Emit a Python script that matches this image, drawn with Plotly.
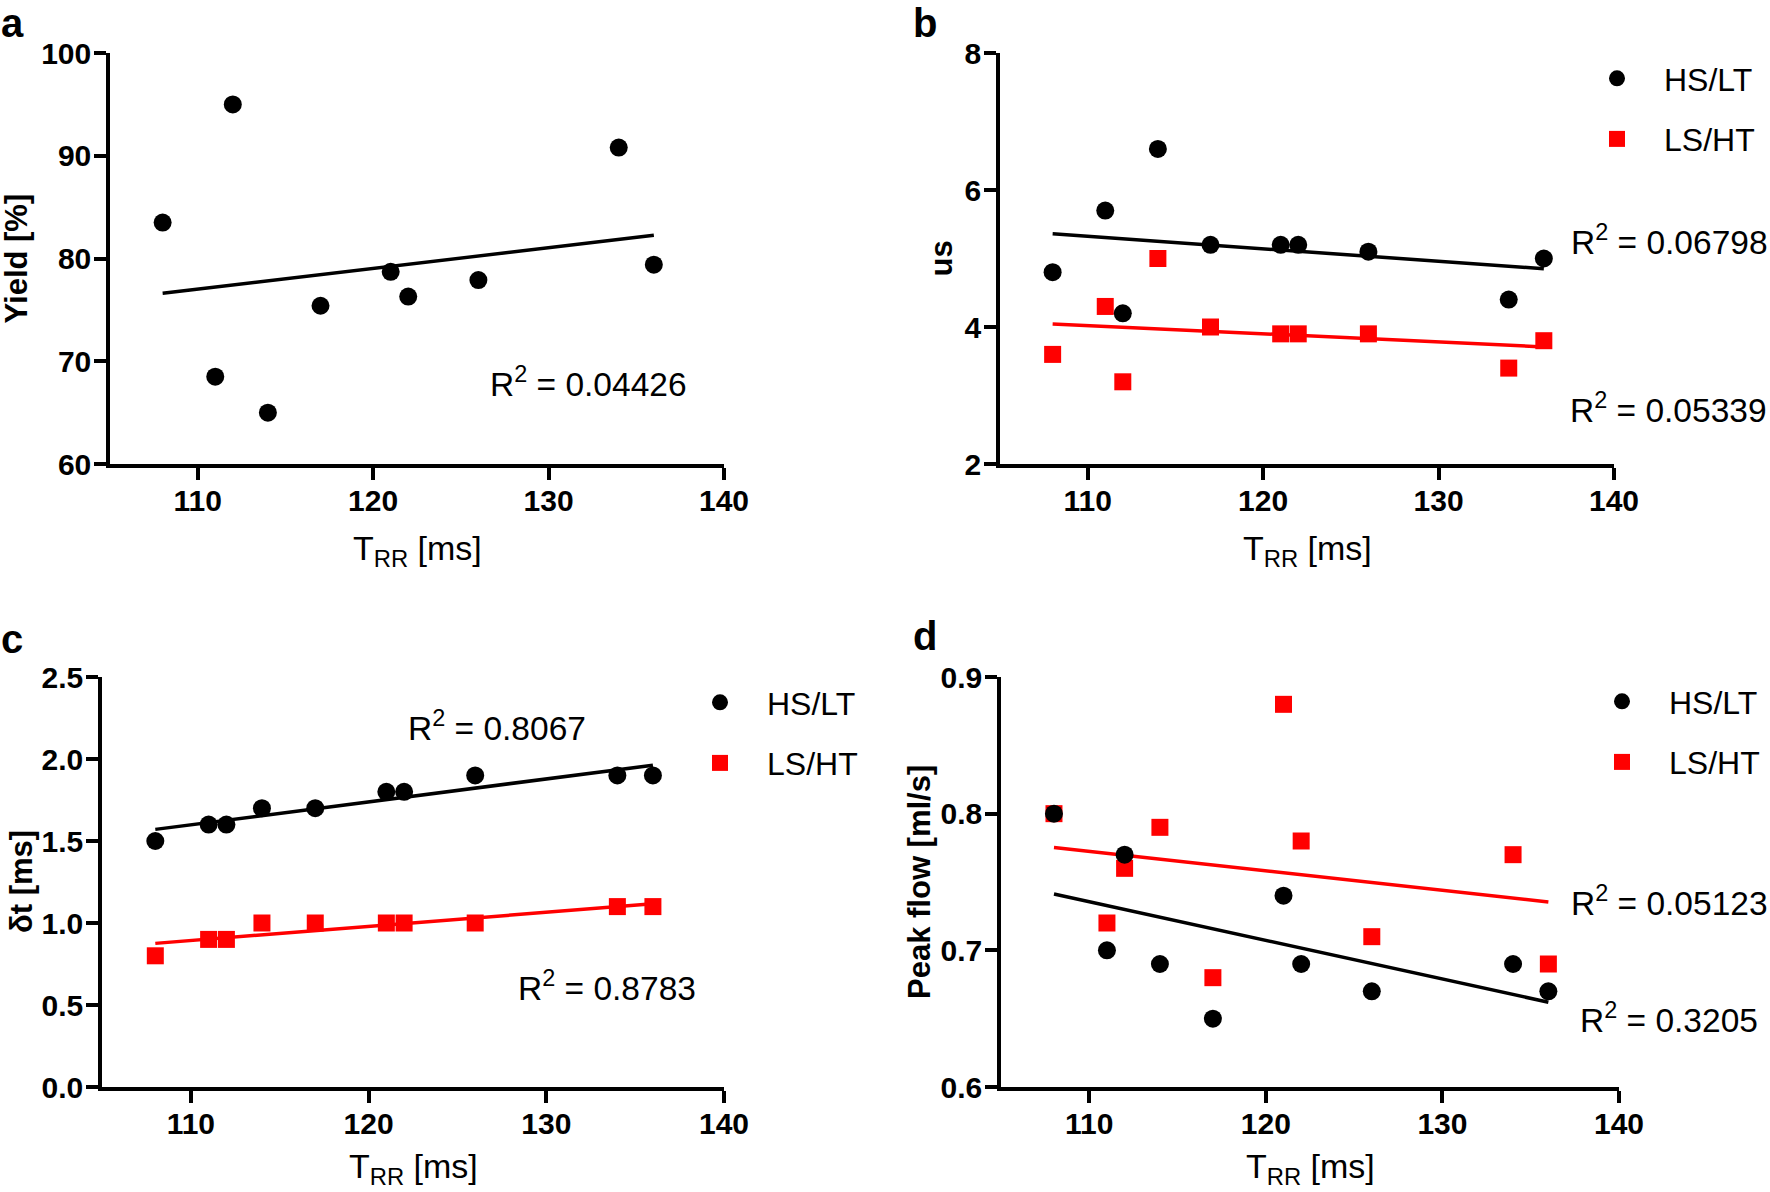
import numpy as np
import plotly.graph_objects as go

W, H = 1770, 1192

# ---------------- data ----------------
trr = [108, 111, 112, 114, 117, 121, 122, 126, 134, 136]

yield_pct = [83.5, 68.5, 95.0, 65.0, 75.4, 78.7, 76.3, 77.9, 90.8, 79.4]

us_hslt = [4.8, 5.7, 4.2, 6.6, 5.2, 5.2, 5.2, 5.1, 4.4, 5.0]
us_lsht = [3.6, 4.3, 3.2, 5.0, 4.0, 3.9, 3.9, 3.9, 3.4, 3.8]

dt_hslt = [1.5, 1.6, 1.6, 1.7, 1.7, 1.8, 1.8, 1.9, 1.9, 1.9]
dt_lsht = [0.8, 0.9, 0.9, 1.0, 1.0, 1.0, 1.0, 1.0, 1.1, 1.1]

pf_hslt = [0.80, 0.70, 0.77, 0.69, 0.65, 0.74, 0.69, 0.67, 0.69, 0.67]
pf_lsht = [0.80, 0.72, 0.76, 0.79, 0.68, 0.88, 0.78, 0.71, 0.77, 0.69]

r2_labels = {
    "a": ["0.04426"],
    "b": ["0.06798", "0.05339"],
    "c": ["0.8067", "0.8783"],
    "d": ["0.05123", "0.3205"],
}
series_names = ["HS/LT", "LS/HT"]
panel_letters = ["a", "b", "c", "d"]
x_ticks = [110, 120, 130, 140]

# ---------------- style ----------------
FONT = "Liberation Sans, Arial, Helvetica, sans-serif"
BLACK = "#000000"
RED = "#ff0000"


def px_x(p):
    return p / W


def px_y(p):
    return 1 - p / H


def fit_line(x, y):
    k, b = np.polyfit(np.array(x, float), np.array(y, float), 1)
    xs = np.array([min(x), max(x)], float)
    return xs, k * xs + b


fig = go.Figure()

def add_series(xa, ya, x, y, name, color, symbol, size, legend=None, rank=1):
    xs, ys = fit_line(x, y)
    fig.add_trace(go.Scatter(x=xs, y=ys, mode="lines", line=dict(color=color, width=3.5),
                             xaxis=xa, yaxis=ya, showlegend=False, hoverinfo="skip"))
    return go.Scatter(x=x, y=y, mode="markers", name=name,
                      marker=dict(color=color, symbol=symbol, size=size, line=dict(width=0)),
                      xaxis=xa, yaxis=ya, showlegend=legend is not None,
                      legend=legend if legend else "legend", legendrank=rank,
                      legendgroup=f"{xa}-{name}")

marker_traces = []
# panel a
marker_traces.append(add_series("x", "y", trr, yield_pct, "Yield", BLACK, "circle", 18))
# panel b
marker_traces.append(add_series("x2", "y2", trr, us_lsht, series_names[1], RED, "square", 17, "legend", 2))
marker_traces.append(add_series("x2", "y2", trr, us_hslt, series_names[0], BLACK, "circle", 18, "legend", 1))
# panel c
marker_traces.append(add_series("x3", "y3", trr, dt_lsht, series_names[1], RED, "square", 17, "legend2", 2))
marker_traces.append(add_series("x3", "y3", trr, dt_hslt, series_names[0], BLACK, "circle", 18, "legend2", 1))
# panel d
marker_traces.append(add_series("x4", "y4", trr, pf_lsht, series_names[1], RED, "square", 17, "legend3", 2))
marker_traces.append(add_series("x4", "y4", trr, pf_hslt, series_names[0], BLACK, "circle", 18, "legend3", 1))
for t in marker_traces:
    fig.add_trace(t)

# ---------------- axes ----------------
domains = {
    "a": ((110, 724), (53, 464)),
    "b": ((1000, 1614), (53, 464)),
    "c": ((102, 724), (677, 1087)),
    "d": ((1001, 1619), (677, 1087)),
}
yspecs = {
    "a": dict(range=[60, 100], dtick=10, tickformat="d"),
    "b": dict(range=[2, 8], dtick=2, tickformat="d"),
    "c": dict(range=[0, 2.5], dtick=0.5, tickformat=".1f"),
    "d": dict(range=[0.6, 0.9], dtick=0.1, tickformat=".1f"),
}
common = dict(showline=True, linewidth=3.5, linecolor=BLACK, ticks="outside", ticklen=12,
              tickwidth=3.5, tickcolor=BLACK, showgrid=False, zeroline=False, mirror=False,
              automargin=False,
              tickfont=dict(family=FONT, size=30, color=BLACK, weight="bold"))

layout_axes = {}
for i, p in enumerate(panel_letters):
    (x0, x1), (y0, y1) = domains[p]
    sfx = "" if i == 0 else str(i + 1)
    layout_axes[f"xaxis{sfx}"] = dict(domain=[px_x(x0), px_x(x1)], range=[105, 140],
                                      tickvals=x_ticks, anchor=f"y{sfx}",
                                      ticklabelstandoff=-5, **common)
    layout_axes[f"yaxis{sfx}"] = dict(domain=[px_y(y1), px_y(y0)], anchor=f"x{sfx}",
                                      tick0=yspecs[p]["range"][0], ticklabelstandoff=-3,
                                      **yspecs[p], **common)

# ---------------- annotations ----------------
ann = []
# top-row letters anchored at the top edge so their box stays inside the page
letter_pos = {"a": (0, 0, "top"), "b": (912, 0, "top"), "c": (0, 639, "middle"), "d": (912, 636, "middle")}
for p in panel_letters:
    lx, ly, anc = letter_pos[p]
    ann.append(dict(x=px_x(lx), y=px_y(ly), text=f"<b>{p}</b>", xanchor="left", yanchor=anc,
                    xref="paper", yref="paper", showarrow=False, borderpad=0,
                    font=dict(size=40, family=FONT, color=BLACK)))

ytitles = {"a": ("Yield [%]", 16), "b": ("us", 941), "c": ("δt [ms]", 21), "d": ("Peak flow [ml/s]", 919)}
xtitle_y = {"a": 550, "b": 550, "c": 1168, "d": 1168}
for p in panel_letters:
    (x0, x1), (y0, y1) = domains[p]
    txt, cx = ytitles[p]
    ann.append(dict(x=px_x(cx), y=px_y((y0 + y1) / 2), text=f"<b>{txt}</b>", textangle=-90,
                    xanchor="center", yanchor="middle", xref="paper", yref="paper", showarrow=False,
                    font=dict(size=31, family=FONT, color=BLACK)))
    ann.append(dict(x=px_x((x0 + x1) / 2), y=px_y(xtitle_y[p]), text="T<sub>RR</sub> [ms]",
                    xanchor="center", yanchor="middle", xref="paper", yref="paper", showarrow=False,
                    font=dict(size=34, family=FONT, color=BLACK)))

r2_pos = {
    "a": [(488, 382)],
    "b": [(1569, 240), (1568, 408)],
    "c": [(406, 726), (516, 986)],
    "d": [(1569, 901), (1578, 1018)],
}
for p in panel_letters:
    for lab, (rx, ry) in zip(r2_labels[p], r2_pos[p]):
        ann.append(dict(x=px_x(rx), y=px_y(ry), text=f"R<sup>2</sup> = {lab}",
                        xanchor="left", yanchor="middle", xref="paper", yref="paper",
                        showarrow=False,
                        font=dict(size=33.5, family=FONT, color=BLACK)))

legend_common = dict(font=dict(family=FONT, size=32, color=BLACK), bgcolor="rgba(0,0,0,0)",
                     xanchor="left", yanchor="top", itemwidth=84, tracegroupgap=16,
                     traceorder="grouped")

fig.update_layout(
    width=W, height=H, margin=dict(l=0, r=0, t=0, b=0, autoexpand=False),
    paper_bgcolor="white", plot_bgcolor="white",
    showlegend=True,
    legend=dict(x=px_x(1570), y=px_y(51), **legend_common),
    legend2=dict(x=px_x(673), y=px_y(675), **legend_common),
    legend3=dict(x=px_x(1575), y=px_y(674), **legend_common),
    annotations=ann,
    **layout_axes,
)

fig.write_html("out.html", config={"displayModeBar": False},
               post_script="document.body.style.margin='0px';")
